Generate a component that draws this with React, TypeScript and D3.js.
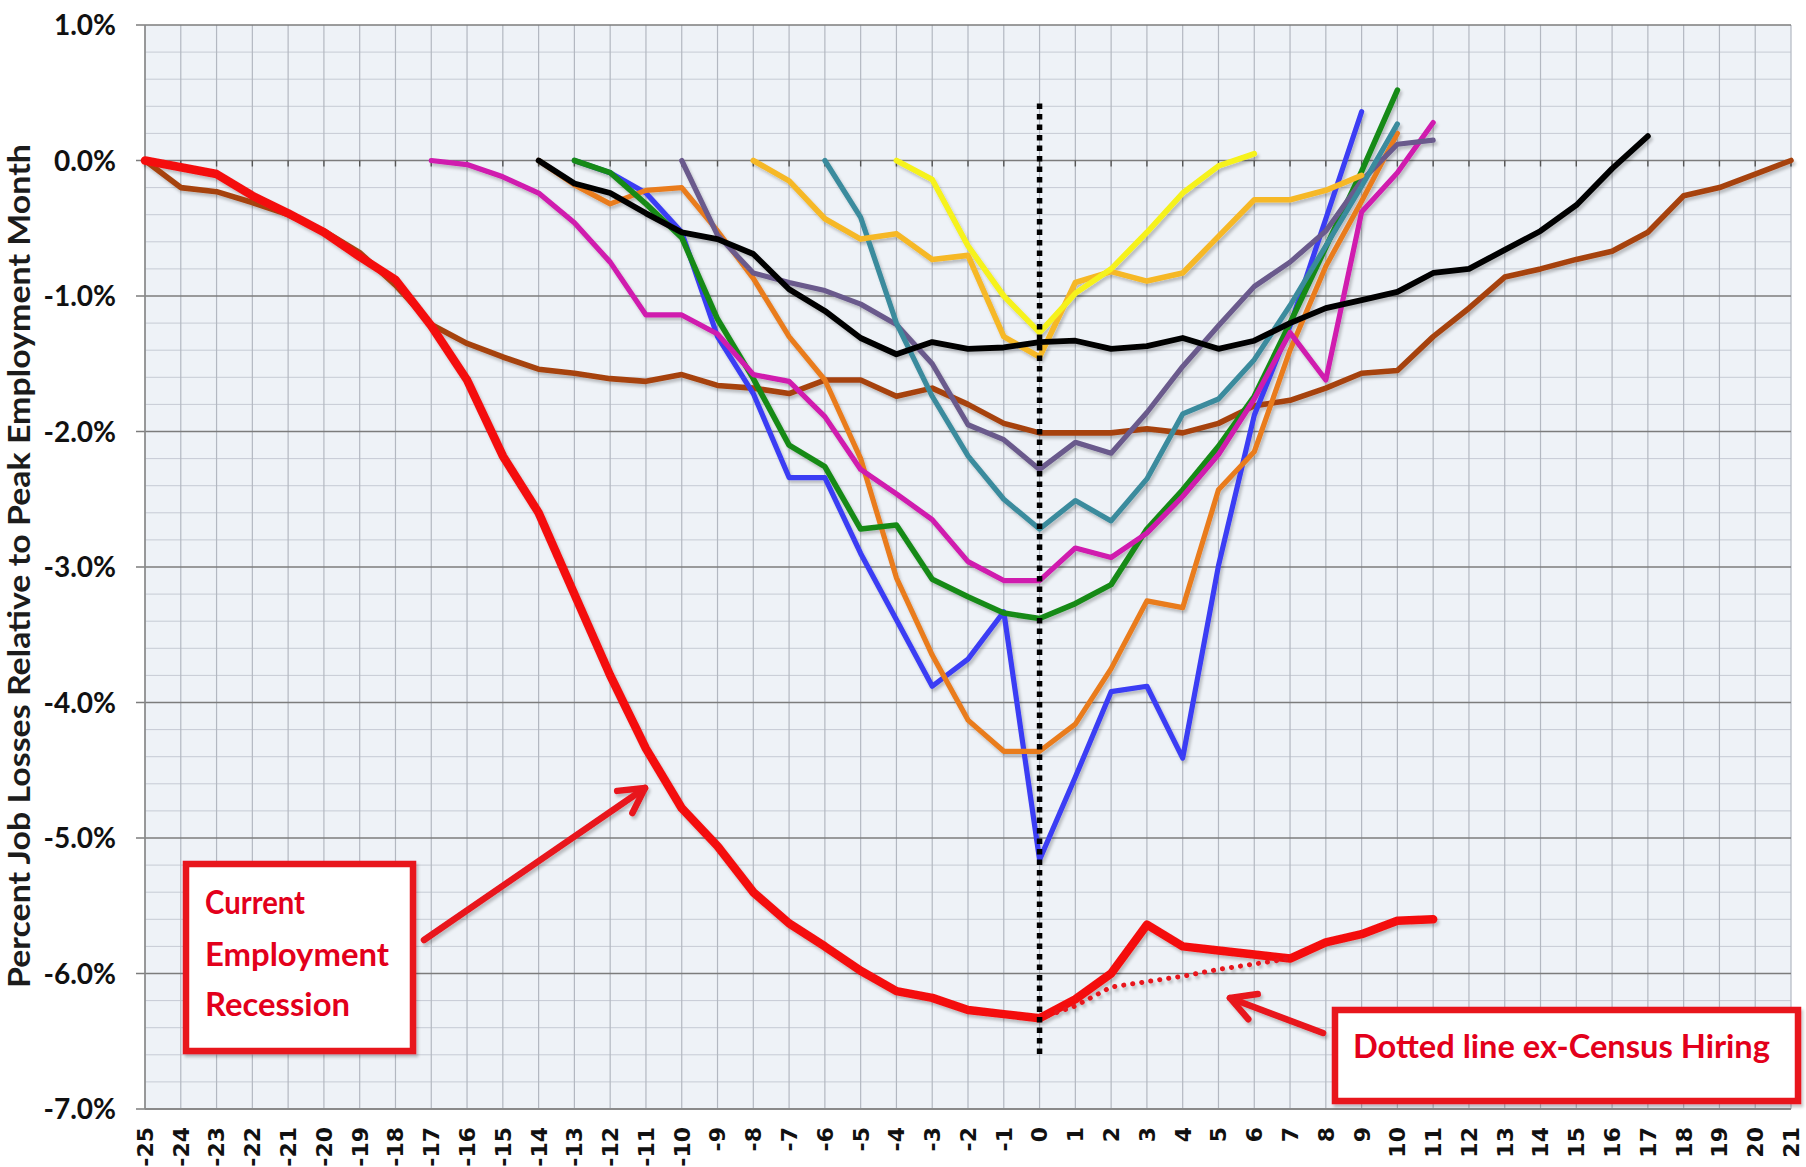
import React from 'react';
import * as d3 from 'd3';

// month offsets on the x axis and percent ticks on the y axis
const monthTicks = d3.range(-25, 22);
const percentTicks = d3.range(-7, 2);
const minorPercentTicks = d3.range(-7, 1.001, 0.2).filter(v => Math.abs(v - Math.round(v)) > 0.01);

// each series: first month and then one value per month (percent vs. peak)
const currentStart = -25;
const currentValues = [0, -0.05, -0.1, -0.26, -0.39, -0.53, -0.71, -0.88, -1.22, -1.62, -2.18, -2.6, -3.2, -3.8, -4.34, -4.78, -5.06, -5.4, -5.63, -5.8, -5.98, -6.13, -6.18, -6.27, -6.3, -6.33, -6.19, -6.0, -5.64, -5.8, -5.83, -5.86, -5.89, -5.77, -5.71, -5.61, -5.6];

const exCensusStart = 0;
const exCensusValues = [-6.33, -6.24, -6.1, -6.06, -6.02, -5.97, -5.93, -5.89];

const brownStart = -25;
const brownValues = [0, -0.2, -0.23, -0.31, -0.4, -0.52, -0.68, -0.92, -1.21, -1.35, -1.45, -1.54, -1.57, -1.61, -1.63, -1.58, -1.66, -1.68, -1.72, -1.62, -1.62, -1.74, -1.68, -1.8, -1.94, -2.01, -2.01, -2.01, -1.98, -2.01, -1.94, -1.81, -1.77, -1.68, -1.57, -1.55, -1.3, -1.09, -0.86, -0.8, -0.73, -0.67, -0.53, -0.26, -0.2, -0.1, 0];

const blackStart = -14;
const blackValues = [0, -0.17, -0.24, -0.39, -0.53, -0.58, -0.69, -0.95, -1.11, -1.31, -1.43, -1.34, -1.39, -1.38, -1.34, -1.33, -1.39, -1.37, -1.31, -1.39, -1.33, -1.2, -1.09, -1.03, -0.97, -0.83, -0.8, -0.66, -0.52, -0.33, -0.06, 0.18];

const greenStart = -13;
const greenValues = [0, -0.09, -0.32, -0.57, -1.17, -1.61, -2.1, -2.26, -2.72, -2.69, -3.09, -3.22, -3.34, -3.38, -3.27, -3.13, -2.72, -2.43, -2.11, -1.74, -1.2, -0.64, -0.08, 0.52];

const blueStart = -13;
const blueValues = [0, -0.09, -0.24, -0.53, -1.3, -1.72, -2.34, -2.34, -2.9, -3.39, -3.88, -3.68, -3.33, -5.16, -4.55, -3.92, -3.88, -4.41, -2.99, -1.88, -1.22, -0.43, 0.36];

const orangeStart = -14;
const orangeValues = [0, -0.18, -0.32, -0.22, -0.2, -0.52, -0.87, -1.3, -1.62, -2.2, -3.08, -3.65, -4.13, -4.36, -4.36, -4.16, -3.75, -3.25, -3.3, -2.43, -2.15, -1.4, -0.78, -0.3, 0.2];

const magentaStart = -17;
const magentaValues = [0, -0.03, -0.12, -0.24, -0.46, -0.75, -1.14, -1.14, -1.28, -1.58, -1.63, -1.89, -2.28, -2.46, -2.65, -2.96, -3.1, -3.1, -2.86, -2.93, -2.75, -2.48, -2.17, -1.76, -1.27, -1.62, -0.38, -0.09, 0.28];

const purpleStart = -10;
const purpleValues = [0, -0.55, -0.83, -0.9, -0.96, -1.06, -1.21, -1.5, -1.95, -2.06, -2.28, -2.08, -2.16, -1.86, -1.52, -1.22, -0.93, -0.75, -0.52, -0.15, 0.12, 0.15];

const tealStart = -6;
const tealValues = [0, -0.42, -1.2, -1.74, -2.18, -2.5, -2.72, -2.51, -2.66, -2.35, -1.87, -1.76, -1.47, -1.07, -0.63, -0.19, 0.27];

const goldStart = -8;
const goldValues = [0, -0.15, -0.43, -0.58, -0.54, -0.73, -0.7, -1.3, -1.45, -0.9, -0.82, -0.89, -0.83, -0.56, -0.29, -0.29, -0.22, -0.11];

const yellowStart = -4;
const yellowValues = [0, -0.14, -0.63, -1.0, -1.27, -0.98, -0.8, -0.53, -0.24, -0.04, 0.05];

const series = [
  { key: 'brown', start: brownStart, values: brownValues },
  { key: 'blue', start: blueStart, values: blueValues },
  { key: 'orange', start: orangeStart, values: orangeValues },
  { key: 'green', start: greenStart, values: greenValues },
  { key: 'magenta', start: magentaStart, values: magentaValues },
  { key: 'purple', start: purpleStart, values: purpleValues },
  { key: 'teal', start: tealStart, values: tealValues },
  { key: 'gold', start: goldStart, values: goldValues },
  { key: 'yellow', start: yellowStart, values: yellowValues },
  { key: 'black', start: blackStart, values: blackValues },
  { key: 'current', start: currentStart, values: currentValues },
];

const styles: Record<string, { color: string; width: number }> = {
  brown: { color: '#a6420e', width: 5.6 },
  blue: { color: '#3b3cf4', width: 5.2 },
  orange: { color: '#e97b1f', width: 5.2 },
  green: { color: '#168a18', width: 5.6 },
  magenta: { color: '#d01aae', width: 5.2 },
  purple: { color: '#6a5a8c', width: 5.2 },
  teal: { color: '#3a8b9d', width: 5.2 },
  gold: { color: '#f6b826', width: 5.6 },
  yellow: { color: '#f6f21a', width: 5.6 },
  black: { color: '#050505', width: 5.8 },
  current: { color: '#f41010', width: 8.5 },
};

const W = 1806;
const H = 1167;
const red = '#e8141c';

const toPoints = (start: number, values: number[]) => values.map((v, i) => [start + i, v] as [number, number]);

const App = () => {
  const x = d3.scaleLinear().domain([-25, 21]).range([145, 1791]);
  const y = d3.scaleLinear().domain([1, -7]).range([25, 1109]);
  const line = d3.line<[number, number]>().x(d => x(d[0])).y(d => y(d[1]));

  const arrowHead = (tx: number, ty: number, fx: number, fy: number) => {
    const a = Math.atan2(fy - ty, fx - tx);
    const len = 28;
    const s = 0.5;
    return `M${tx + len * Math.cos(a + s)},${ty + len * Math.sin(a + s)}L${tx},${ty}L${tx + len * Math.cos(a - s)},${ty + len * Math.sin(a - s)}`;
  };

  return (
    <svg width={W} height={H} style={{ position: 'absolute', left: 0, top: 0, display: 'block', background: '#fff' }}>
      <defs>
        <filter id="shadow" x="-10%" y="-10%" width="120%" height="120%">
          <feDropShadow dx="2" dy="3" stdDeviation="1.8" floodColor="#000" floodOpacity="0.22" />
        </filter>
      </defs>

      {/* plot background and grid */}
      <rect x={x(-25)} y={y(1)} width={x(21) - x(-25)} height={y(-7) - y(1)} fill="#eef2f7" />
      {minorPercentTicks.map(v => (
        <line key={'mn' + v} x1={x(-25)} x2={x(21)} y1={y(v)} y2={y(v)} stroke="#c6cbd4" strokeWidth={1} />
      ))}
      {monthTicks.map(m => (
        <line key={'vg' + m} x1={x(m)} x2={x(m)} y1={y(1)} y2={y(-7)} stroke="#b3b8c1" strokeWidth={1.2} />
      ))}
      {percentTicks.map(v => (
        <line key={'mj' + v} x1={x(-25) - 9} x2={x(21)} y1={y(v)} y2={y(v)} stroke="#7c7c7c" strokeWidth={1.6} />
      ))}
      {monthTicks.map(m => (
        <line key={'tk' + m} x1={x(m)} x2={x(m)} y1={y(0)} y2={y(0) + 6} stroke="#555" strokeWidth={1.4} />
      ))}
      <line x1={x(-25)} x2={x(-25)} y1={y(1)} y2={y(-7)} stroke="#8a8a8a" strokeWidth={1.6} />
      <line x1={x(-25)} x2={x(21)} y1={y(-7)} y2={y(-7)} stroke="#8a8a8a" strokeWidth={2} />

      {/* y tick labels */}
      {percentTicks.map(v => (
        <text key={'yl' + v} x={116} y={y(v)} dy="0.36em" textAnchor="end"
          style={{ font: '700 28px Lato', fill: '#111' }}>
          {`${v.toFixed(1)}%`}
        </text>
      ))}

      {/* x tick labels */}
      {monthTicks.map(m => (
        <text key={'xl' + m} transform={`translate(${x(m)},1127) rotate(-90)`} dy="0.36em" textAnchor="end"
          style={{ font: 'bold 22px "DejaVu Sans"', fill: '#111' }}>
          {String(m)}
        </text>
      ))}

      {/* y axis title */}
      <text transform="translate(19,566) rotate(-90)" textAnchor="middle" dy="0.36em" textLength={844}
        lengthAdjust="spacingAndGlyphs" style={{ font: '700 30px Lato', fill: '#1c1c1c' }}>
        Percent Job Losses Relative to Peak Employment Month
      </text>

      {/* series */}
      <g filter="url(#shadow)" fill="none" strokeLinejoin="round" strokeLinecap="round">
        {series.map(s => (
          <path key={s.key} d={line(toPoints(s.start, s.values)) || ''}
            stroke={styles[s.key].color} strokeWidth={styles[s.key].width} />
        ))}
        <path d={line(toPoints(exCensusStart, exCensusValues)) || ''} stroke={red}
          strokeWidth={5} strokeDasharray="0.1 9" />
      </g>

      {/* peak month marker */}
      <line x1={x(0)} x2={x(0)} y1={y(0.42)} y2={y(-6.63)} stroke="#000" strokeWidth={5.5} strokeDasharray="5.5 5" />

      {/* annotations */}
      <g filter="url(#shadow)">
        <rect x={186} y={864} width={227} height={187} fill="#fff" stroke={red} strokeWidth={6.5} />
        <path d="M424,940L645,788" stroke={red} strokeWidth={6.5} fill="none" strokeLinecap="round" />
        <path d={arrowHead(645, 788, 424, 940)} stroke={red} strokeWidth={6.5} fill="none" strokeLinecap="round" strokeLinejoin="round" />

        <rect x={1335} y={1010} width={463} height={91} fill="#fff" stroke={red} strokeWidth={6.5} />
        <path d="M1323,1033L1230,998" stroke={red} strokeWidth={6.5} fill="none" strokeLinecap="round" />
        <path d={arrowHead(1230, 998, 1323, 1033)} stroke={red} strokeWidth={6.5} fill="none" strokeLinecap="round" strokeLinejoin="round" />
      </g>
      <g style={{ font: '700 33px Lato', fill: '#e3001b' }}>
        <text x={205} y={914} textLength={100} lengthAdjust="spacingAndGlyphs">Current</text>
        <text x={205} y={966} textLength={184} lengthAdjust="spacingAndGlyphs">Employment</text>
        <text x={205} y={1016} textLength={145} lengthAdjust="spacingAndGlyphs">Recession</text>
      </g>
      <text x={1353} y={1058} textLength={417} lengthAdjust="spacingAndGlyphs" style={{ font: '700 32px Lato', fill: '#e3001b' }}>
        Dotted line ex-Census Hiring
      </text>
    </svg>
  );
};

export default App;
